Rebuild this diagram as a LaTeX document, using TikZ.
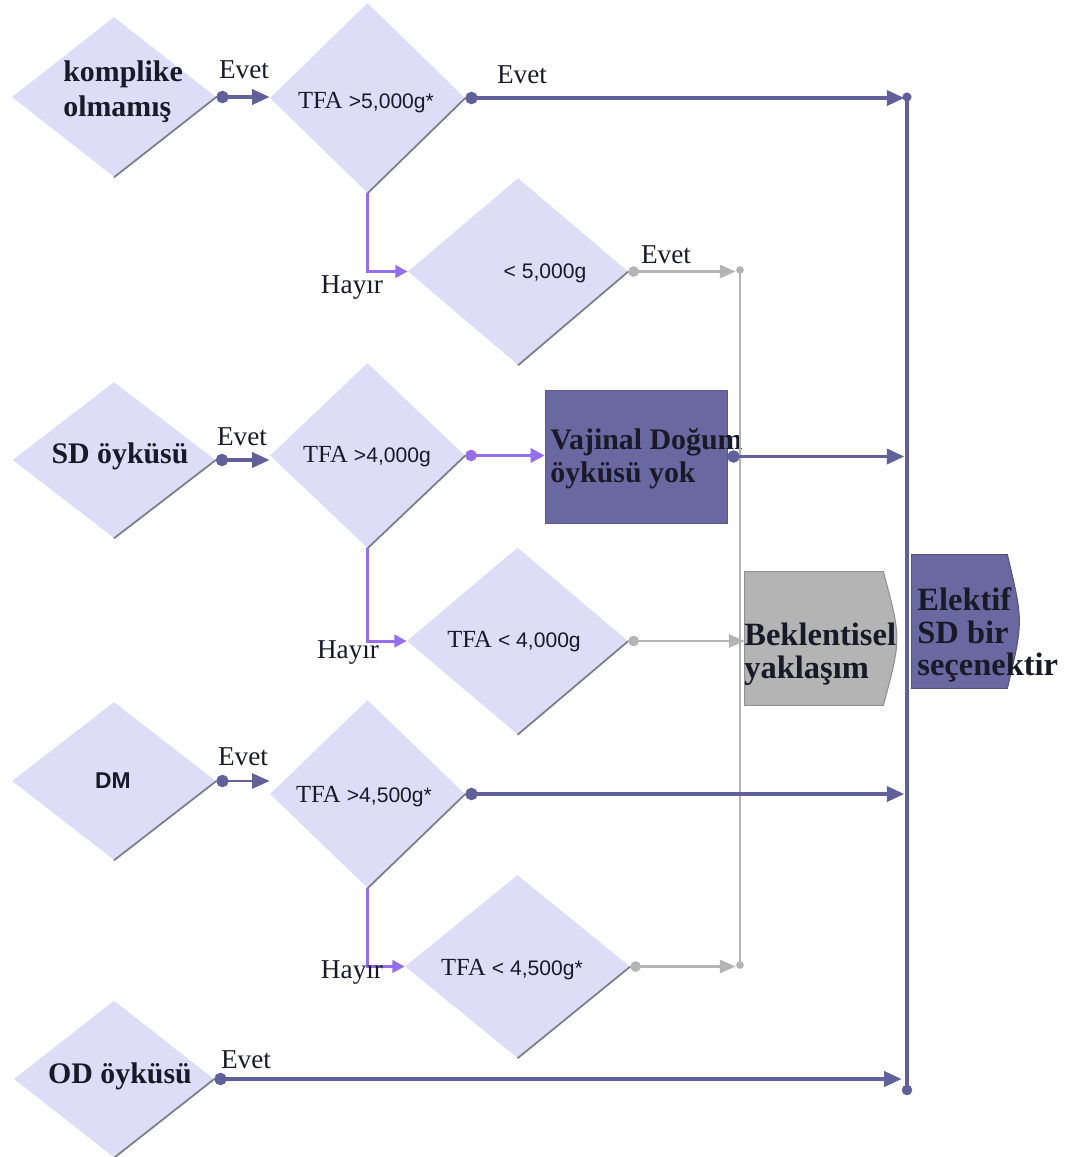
\documentclass[tikz,border=0pt]{standalone}
\usepackage{fontspec}
\setmainfont{Liberation Serif}
\setsansfont{Liberation Sans}
\usetikzlibrary{arrows.meta,shapes.geometric,calc,backgrounds}
\definecolor{lav}{RGB}{221,221,247}
\definecolor{navy}{RGB}{96,96,155}
\definecolor{boxpurple}{RGB}{106,104,160}
\definecolor{orchid}{RGB}{150,110,235}
\definecolor{ash}{RGB}{180,180,180}
\definecolor{rimgray}{RGB}{125,125,135}
\definecolor{ink}{RGB}{25,25,40}
\newcommand{\sftxt}[1]{{\sffamily\fontsize{12}{14}\selectfont #1}}

\begin{document}
\begin{tikzpicture}[x=0.02cm, y=-0.02cm,
      decision/.style={diamond, fill=lav, inner sep=0pt},
      rim/.style={draw=rimgray, line width=1pt},
      cond/.style={font=\fontsize{17}{20}\selectfont\bfseries, text=ink, inner sep=0pt},
      tfa/.style={font=\rmfamily\fontsize{14}{16}\selectfont, text=ink, anchor=base, inner sep=0pt},
      lbl/.style={font=\fontsize{15.5}{18}\selectfont, text=ink, anchor=base, inner sep=0pt},
      outtxt/.style={font=\fontsize{18.5}{18.7}\selectfont\bfseries, text=ink, align=left,
                     anchor=west, inner sep=0pt},
      yesline/.style={navy, line width=2.2pt, {Circle[length=7pt]}-{Triangle[length=10pt,width=8.5pt]}},
      noline/.style={orchid, line width=1.7pt, -{Triangle[length=7pt,width=7pt]}},
      greyline/.style={ash, line width=1.3pt, {Circle[length=6pt]}-{Triangle[length=9pt,width=7.5pt]}}]
    \useasboundingbox (0,0) rectangle (1082,1157);
    % decisions
    \foreach \n/\x/\y/\w/\h in {d1/114/97/4.08/3.2, d2/367.5/98/3.9/3.8, d3/518/271.5/4.4/3.74,
        d4/114/460/4.06/3.12, d5/367.5/455.5/3.9/3.7, d6/517.5/641/4.42/3.74,
        d7/114/781/4.08/3.16, d8/367.5/794/3.9/3.76, d9/517.5/966.5/4.5/3.66,
        d10/114/1079/4.0/3.14}
      \node[decision, minimum width=\w cm, minimum height=\h cm] (\n) at (\x,\y) {};
    \foreach \i in {1,...,10}
      \draw[rim] (d\i.east) -- (d\i.south);
    \node[cond, anchor=west, align=left] (t1) at (63,92) {komplike\\olmamış};
    \node[tfa] (t2) at (366,108) {TFA \sftxt{>5,000g*}};
    \node[tfa] (t3) at (545,278) {\sftxt{< 5,000g}};
    \node[cond, anchor=base] (t4) at (120,463) {SD öyküsü};
    \node[tfa] (t5) at (367,462) {TFA \sftxt{>4,000g}};
    \node[tfa] (t6) at (514,647) {TFA \sftxt{< 4,000g}};
    \node[cond, anchor=base, font=\sffamily\bfseries\fontsize{13}{15}\selectfont] (t7) at (113,788) {DM};
    \node[tfa] (t8) at (364,802) {TFA \sftxt{>4,500g*}};
    \node[tfa] (t9) at (512,975) {TFA \sftxt{< 4,500g*}};
    \node[cond, anchor=base] (t10) at (120,1083) {OD öyküsü};
    % outcomes
    \node[draw=boxpurple!85!black, fill=boxpurple, minimum width=3.64cm, minimum height=2.66cm,
          inner sep=0pt] (vd) at (636,456.5) {};
    \node[minimum width=2.76cm, minimum height=2.66cm, inner sep=0pt] (bek) at (814,638.5) {};
    \node[minimum width=1.9cm, minimum height=2.66cm, inner sep=0pt] (sd) at (959.5,621.5) {};
    \fill[ash, draw=ash!80!black, line width=0.6pt] (bek.north west) -- (bek.north east)
      .. controls ($(bek.east)+(18,0)$) .. (bek.south east) -- (bek.south west) -- cycle;
    \fill[boxpurple, draw=boxpurple!80!black, line width=0.6pt] (sd.north west) -- (sd.north east)
      .. controls ($(sd.east)+(16,0)$) .. (sd.south east) -- (sd.south west) -- cycle;
    \node[outtxt, font=\fontsize{17}{18.7}\selectfont\bfseries] (vdt) at (550,459)
      {Vajinal Doğum\\öyküsü yok};
    \node[outtxt] (bekt) at (744,654) {Beklentisel\\yaklaşım};
    \node[outtxt] (sdt) at (917,635) {Elektif\\SD bir\\seçenektir};
    % grey collector
    \coordinate (gtop) at (740,270);
    \coordinate (gbot) at (740,965);
    \draw[ash, line width=1.3pt] (gtop) -- (gbot);
    \fill[ash] (gtop) circle (2.2pt) (gbot) circle (2.2pt);
    \draw[greyline, shorten >=2.5pt] (d3.east) -- (d3.east -| gtop);
    \draw[greyline] (d6.east) -- (d6.east -| bek.west);
    \draw[greyline, shorten >=2.5pt] (d9.east) -- (d9.east -| gbot);
    % Hayir branches
    \draw[noline] (d2.south) |- (d3.west);
    \draw[noline] (d5.south) |- (d6.west);
    \draw[noline] (d8.south) |- (d9.west);
    \draw[orchid, line width=1.9pt, {Circle[length=6.5pt]}-{Triangle[length=8pt,width=8pt]}]
      (d5.east) -- (d5.east -| vd.west);
    % Evet branches
    \coordinate (bustop) at (907,97);
    \coordinate (busbot) at (907,1090);
    \draw[yesline] (d1.east) -- (d1.east -| d2.west);
    \draw[yesline] (d4.east) -- (d4.east -| d5.west);
    \draw[yesline, line width=1.6pt] (d7.east) -- (d7.east -| d8.west);
    \draw[yesline, shorten >=1.5pt] (d2.east) -- (d2.east -| bustop);
    \draw[yesline, shorten >=1.5pt] (vd.east) -- (vd.east -| bustop);
    \draw[yesline, shorten >=1.5pt] (d8.east) -- (d8.east -| bustop);
    \draw[yesline, shorten >=3pt] (d10.east) -- (d10.east -| busbot);
    \draw[navy, line width=2.6pt] (bustop) -- (busbot);
    \fill[navy] (bustop) circle (2.6pt) (busbot) circle (3pt);
    % labels
    \node[lbl] (e1) at (244,78) {Evet};
    \node[lbl] (e2) at (522,83) {Evet};
    \node[lbl] (e3) at (666,263) {Evet};
    \node[lbl] (e4) at (242,445) {Evet};
    \node[lbl] (e5) at (243,765) {Evet};
    \node[lbl] (e6) at (246,1068) {Evet};
    \node[lbl] (h1) at (352,293) {Hayır};
    \node[lbl] (h2) at (348,658) {Hayır};
    \node[lbl] (h3) at (352,978) {Hayır};
  \end{tikzpicture}
\end{document}
